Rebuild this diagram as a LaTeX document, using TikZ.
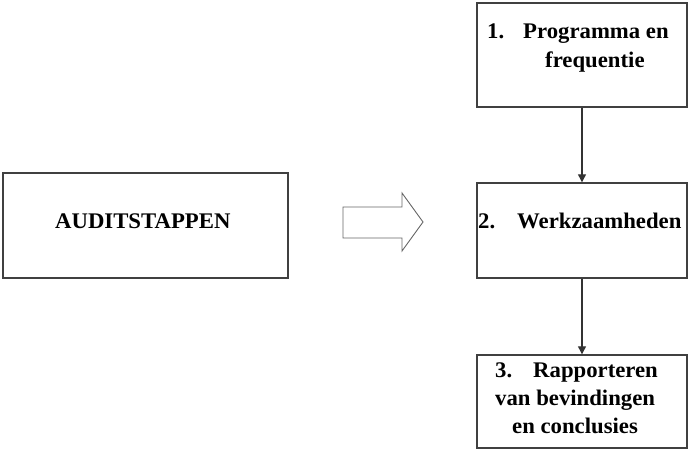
\documentclass[tikz,border=0pt]{standalone}
\usepackage{fontspec}
\setmainfont[FakeStretch=1.02]{Liberation Serif}
\usetikzlibrary{arrows.meta}
\begin{document}
\begin{tikzpicture}[x=1pt,y=-1pt,
  box/.style={draw=black!75,line width=1.4pt,rectangle,inner sep=0pt},
  lbl/.style={anchor=base west,inner sep=0pt,font=\fontsize{22.3}{26}\selectfont\bfseries},
  conn/.style={draw=black!80,line width=1.2pt,-{Triangle[length=8pt,width=8pt]}},
  blockarrow/.style={draw=black!60,line width=0.9pt,fill=white}]
\useasboundingbox (0,0) rectangle (688,450);
% boxes
\node[box,minimum width=285pt,minimum height=105pt] (aud) at (145.5,225.5) {};
\node[box,minimum width=210pt,minimum height=104pt] (b1) at (582,55) {};
\node[box,minimum width=210pt,minimum height=95pt] (b2) at (582,230.5) {};
\node[box,minimum width=210pt,minimum height=93pt] (b3) at (582,401.5) {};
% texts
\node[lbl] (t0) at (55,228) {AUDITSTAPPEN};
\node[lbl] (t1a) at (487,38) {1.};
\node[lbl] (t1b) at (523,38) {Programma en};
\node[lbl] (t1c) at (545,67) {frequentie};
\node[lbl] (t2a) at (478,228) {2.};
\node[lbl] (t2b) at (517,228) {Werkzaamheden};
\node[lbl] (t3a) at (495,377) {3.};
\node[lbl] (t3b) at (533,377) {Rapporteren};
\node[lbl] (t3c) at (495,405) {van bevindingen};
\node[lbl] (t3d) at (512,433) {en conclusies};
% block arrow
\draw[blockarrow] (343,207) -- (402,207) -- (402,193) -- (423,222) -- (402,251) -- (402,238) -- (343,238) -- cycle;
% connectors
\draw[conn] (b1.south) -- (b2.north);
\draw[conn] (b2.south) -- (b3.north);
\end{tikzpicture}
\end{document}
